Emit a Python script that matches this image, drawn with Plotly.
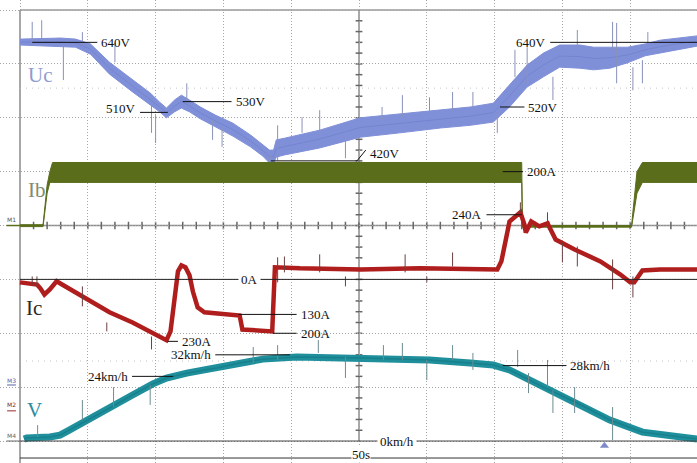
import plotly.graph_objects as go

# ------------------------------------------------------------------ data
# time in seconds (5 s/div, 50 s record)
t_uc = [0.0, 3.0, 4.1, 5.2, 6.6, 8.3, 9.6, 10.3, 10.8, 11.4, 11.9, 12.5, 13.3, 14.4, 15.7, 17.0, 17.9, 18.4, 18.7, 18.9,
        19.5, 22.1, 25.1, 28.0, 31.0, 33.2, 34.9, 36.1, 37.4, 38.6, 39.8, 41.3, 42.3, 43.5, 44.8, 46.1, 47.2, 49.93]
uc_hi = [646, 648, 646, 637, 603, 570, 546, 529, 518, 533, 542, 533, 520, 505, 490, 468, 449, 440, 440, 459,
         462, 477, 500, 507, 514, 520, 527, 561, 598, 620, 635, 635, 631, 631, 631, 637, 644, 652]
uc_lo = [635, 633, 631, 618, 581, 548, 524, 511, 500, 511, 518, 511, 498, 483, 466, 446, 429, 416, 416, 427,
         431, 444, 464, 472, 481, 486, 492, 520, 557, 576, 594, 592, 589, 592, 602, 615, 620, 633]

t_ib = [0.0, 1.7, 2.0, 2.2, 2.4, 37.0, 37.05, 45.1, 45.5, 45.9, 49.93]
ib_hi = [3, 3, 150, 200, 234, 234, 0, 0, 200, 234, 234]
ib_lo = [-4, -4, 120, 160, 160, 160, -6, -6, 120, 160, 160]

t_ic = [0.0, 1.25, 1.5, 1.8, 2.2, 2.7, 3.1, 4.6, 6.6, 8.3, 10.3, 10.8, 11.1, 11.4, 11.65, 11.9, 12.2, 12.5, 12.75, 13.1,
        13.6, 16.2, 16.4, 18.6, 18.8, 20.65, 25.1, 29.5, 35.2, 35.5, 36.1, 36.9, 37.2, 37.3, 37.7, 38.3, 38.9, 39.5,
        40.9, 42.8, 44.25, 45.0, 45.3, 45.9, 47.2, 49.93]
ic = [-11, -19, -33, -56, -37, -7, -19, -63, -122, -160, -212, -226, -193, -74, 30, 52, 45, 15, -45, -104,
      -122, -134, -186, -193, 45, 41, 37, 41, 37, 67, 215, 249, 204, 174, 215, 197, 208, 148,
      111, 67, 19, -11, -11, 33, 37, 37]

t_v = [0.3, 0.5, 2.2, 2.95, 3.5, 4.9, 6.6, 8.3, 9.8, 10.8, 12.3, 14.5, 16.2, 17.9, 20.4, 25.3, 30.2, 33.2, 34.9,
       36.1, 38.6, 41.1, 43.5, 45.9, 48.5, 49.93]
v = [0.7, 1.1, 1.5, 2.2, 3.7, 7.4, 12.2, 17.1, 21.2, 23.4, 25.2, 27.1, 29.0, 30.4, 31.2, 30.8, 30.1, 29.0, 28.2,
     26.4, 20.0, 14.1, 7.8, 3.3, 1.5, 0.7]

# noise spikes (time, top, bottom)
uc_spk_t = [0.9, 1.6, 3.2, 4.6, 7.0, 9.7, 10.0, 12.3, 14.2, 14.9, 18.5, 19.0, 20.8, 22.1, 24.0, 26.7, 28.2, 30.2,
            31.9, 33.4, 35.2, 36.5, 37.4, 39.3, 41.1, 43.7, 44.0, 45.2, 45.9, 46.3]
uc_spk_hi = [678, 681, 639, 659, 639, 524, 505, 564, 496, 483, 431, 486, 501, 514, 483, 520, 542, 538,
             548, 548, 509, 626, 631, 576, 663, 678, 676, 594, 607, 659]
uc_spk_lo = [639, 639, 570, 635, 603, 472, 453, 533, 459, 446, 399, 421, 472, 472, 425, 496, 501, 509,
             514, 520, 472, 576, 564, 533, 626, 626, 564, 551, 564, 639]

ic_spk_t = [0.9, 1.25, 4.6, 6.4, 9.7, 19.0, 19.5, 22.1, 24.0, 28.4, 30.0, 31.9, 36.9, 38.9, 40.0, 41.1, 43.7, 45.2]
ic_spk_hi = [11, 11, -26, -160, -212, 82, 85, 93, 11, 93, 11, 100, 286, 249, 137, 122, 74, 11]
ic_spk_lo = [-19, -26, -100, -193, -260, -11, 26, 26, -26, 26, -11, 48, 249, 197, 63, 48, -37, -67]

v_spk_t = [1.3, 4.6, 6.9, 9.6, 17.2, 19.0, 22.0, 24.0, 26.8, 28.2, 30.0, 31.9, 33.4, 36.7, 37.5, 38.9, 39.3, 40.9, 43.7]
v_spk_hi = [5.9, 15.2, 20.0, 20.8, 34.9, 35.6, 37.5, 31.2, 35.6, 36.4, 30.1, 35.6, 32.7, 33.8, 25.2, 30.1, 18.9, 20.0, 12.6]
v_spk_lo = [1.5, 7.8, 12.6, 13.4, 29.0, 30.1, 32.7, 23.4, 30.1, 30.1, 22.6, 30.1, 26.4, 27.5, 17.8, 20.0, 10.4, 10.4, 0.4]

# callouts: (text, channel, value, line t0, line t1, text side)
callouts = [
    ("640V", "uc", 640, 0.9, 5.7, "right"),
    ("510V", "uc", 510, 8.85, 10.9, "left"),
    ("530V", "uc", 530, 12.0, 15.6, "right"),
    ("520V", "uc", 520, 35.4, 37.2, "right"),
    ("640V", "uc", 640, 39.1, 49.93, "left"),
    ("200A", "ib", 200, 35.6, 37.1, "right"),
    ("240A", "ic", 240, 34.4, 37.0, "left"),
    ("230A", "ic", -230, 10.9, 11.65, "right"),
    ("130A", "ic", -130, 16.1, 20.4, "right"),
    ("200A", "ic", -200, 18.65, 20.4, "right"),
    ("32km/h", "v", 32, 14.4, 19.9, "left"),
    ("24km/h", "v", 24, 8.26, 11.3, "left"),
    ("28km/h", "v", 28, 35.6, 40.3, "right"),
]

# ------------------------------------------------------------------ scope display settings
XR = [-1.475, 49.926]          # seconds
YR = [-0.408, 8.186]           # screen divisions
CH = {"uc": (1.0, 100.0), "ib": (4.0, 200.0), "ic": (3.0, 200.0), "v": (0.0, 20.0)}  # (zero div, units/div)
AX = {"uc": "y2", "ib": "y3", "ic": "y4", "v": "y5"}
COL = {"uc": "#8090d8", "uc_d": "#7484d0", "ib": "#5a6d1b", "ic": "#b01d1d", "v": "#1f8f9c", "v_d": "#17808c"}
FONT = "Liberation Serif"


def rng(ch):
    off, per = CH[ch]
    return [(YR[0] - off) * per, (YR[1] - off) * per]


def spikes(ts, hi, lo):
    xs, ys = [], []
    for t, a, b in zip(ts, hi, lo):
        xs += [t, t, None]
        ys += [a, b, None]
    return xs, ys


fig = go.Figure()
common = dict(mode="lines", hoverinfo="skip", showlegend=False)

# Ib (PWM block)
fig.add_trace(go.Scatter(x=t_ib, y=ib_lo, yaxis=AX["ib"], line=dict(color=COL["ib"], width=1), **common))
fig.add_trace(go.Scatter(x=t_ib, y=ib_hi, yaxis=AX["ib"], line=dict(color=COL["ib"], width=1),
                         fill="tonexty", fillcolor=COL["ib"], **common))

# Uc band
fig.add_trace(go.Scatter(x=t_uc, y=uc_lo, yaxis=AX["uc"], line=dict(color=COL["uc"], width=1), **common))
fig.add_trace(go.Scatter(x=t_uc, y=uc_hi, yaxis=AX["uc"], line=dict(color=COL["uc"], width=1),
                         fill="tonexty", fillcolor=COL["uc"], **common))
uc_mid = [(a + b) / 2 for a, b in zip(uc_hi, uc_lo)]
fig.add_trace(go.Scatter(x=t_uc, y=uc_mid, yaxis=AX["uc"], line=dict(color=COL["uc_d"], width=1), **common))
sx, sy = spikes(uc_spk_t, uc_spk_hi, uc_spk_lo)
fig.add_trace(go.Scatter(x=sx, y=sy, yaxis=AX["uc"], line=dict(color="#8a92ba", width=1), **common))

# Ic
fig.add_trace(go.Scatter(x=t_ic, y=ic, yaxis=AX["ic"], line=dict(color=COL["ic"], width=4.5), **common))
sx, sy = spikes(ic_spk_t, ic_spk_hi, ic_spk_lo)
fig.add_trace(go.Scatter(x=sx, y=sy, yaxis=AX["ic"], line=dict(color="#6b4040", width=1), **common))

# V
fig.add_trace(go.Scatter(x=t_v, y=v, yaxis=AX["v"], line=dict(color=COL["v"], width=7), **common))
fig.add_trace(go.Scatter(x=t_v, y=v, yaxis=AX["v"], line=dict(color=COL["v_d"], width=1.5), **common))
sx, sy = spikes(v_spk_t, v_spk_hi, v_spk_lo)
fig.add_trace(go.Scatter(x=sx, y=sy, yaxis=AX["v"], line=dict(color="#6d8c92", width=1), **common))

# trigger marker
fig.add_trace(go.Scatter(x=[43.1], y=[-0.09], yaxis="y6", mode="markers", hoverinfo="skip", showlegend=False,
                         marker=dict(symbol="triangle-up", size=8, color="#7f8bc9")))

shapes = []
ann = []


def hline(y, x0, x1, yref="y", color="#222", width=1, dash="solid", layer="above"):
    shapes.append(dict(type="line", xref="x", yref=yref, x0=x0, x1=x1, y0=y, y1=y, layer=layer,
                       line=dict(color=color, width=width, dash=dash)))


def vline(x, y0, y1, color="#555", width=1.5, layer="below"):
    shapes.append(dict(type="line", xref="x", yref="y", x0=x, x1=x, y0=y0, y1=y1, layer=layer,
                       line=dict(color=color, width=width)))


# frame / reference lines
hline(8, 0, XR[1], color="#9a9a9a", width=1.5, layer="below")
vline(0, YR[0], 8, color="#8a8a8a")
hline(4, 0, XR[1], color="#8c8c8c", width=1.5, layer="below")
vline(25, 0, 8, color="#8c8c8c")
# centre-line graticule ticks (1/5 division)
for k in range(1, 50):
    vline(float(k), 3.93, 4.07, color="#666")
for k in range(1, 40):
    hline(k * 0.2, 24.75, 25.25, color="#666", width=1.5, layer="below")
hline(6.55, 0, XR[1], color="#c4c4c4", dash="1px,5px", layer="below")
hline(1.485, 0, XR[1], color="#c4c4c4", dash="1px,5px", layer="below")
hline(0, 0, XR[1], yref=AX["ic"], color="#222", width=1)          # 0A
hline(0, 0, XR[1], yref=AX["v"], color="#444", width=1)           # 0km/h
hline(-0.3155, 0, XR[1], color="#333", width=1)                   # 50s bar
# 420V leader with bend
hline(420, 18.5, 24.85, yref=AX["uc"], color="#111")
shapes.append(dict(type="line", xref="x", yref=AX["uc"], x0=24.85, x1=25.5, y0=420, y1=440,
                   line=dict(color="#111", width=1)))

lab = dict(showarrow=False, font=dict(family=FONT, size=13, color="#111"), yanchor="middle")
for text, ch, val, a, b, side in callouts:
    hline(val, a, b, yref=AX[ch], color="#111")
    ys = 4 if text == "510V" else 0
    if side == "right":
        ann.append(dict(x=b, y=val, xref="x", yref=AX[ch], text=text, xanchor="left", xshift=2, yshift=ys, **lab))
    else:
        ann.append(dict(x=a, y=val, xref="x", yref=AX[ch], text=text, xanchor="right", xshift=-2, yshift=ys, **lab))
ann.append(dict(x=25.7, y=433, xref="x", yref=AX["uc"], text="420V", xanchor="left", **lab))
ann.append(dict(x=16.9, y=0, xref="x", yref=AX["ic"], text="0A", xanchor="center", bgcolor="white", borderpad=2, **lab))
ann.append(dict(x=27.8, y=0, xref="x", yref=AX["v"], text="0km/h", xanchor="center", bgcolor="white", borderpad=2, **lab))
ann.append(dict(x=25.15, y=YR[0], xref="x", yref="y", text="50s", xanchor="center", yanchor="bottom",
                showarrow=False, bgcolor="white", borderpad=0, font=dict(family=FONT, size=13, color="#111")))

# channel names
for text, x, y, c in [("Uc", 1.5, 6.79, "#8f9cd0"), ("Ib", 1.29, 4.66, "#808c70"),
                      ("Ic", 1.0, 2.47, "#2a2a2a"), ("V", 1.07, 0.575, "#2b8a9e")]:
    ann.append(dict(x=x, y=y, xref="x", yref="y", text=text, showarrow=False, xanchor="center", yanchor="middle",
                    font=dict(family=FONT, size=21, color=c)))
# channel markers
for text, y, c in [("M1", 4.12, "#555"), ("M3", 1.13, "#5a64a8"), ("M2", 0.67, "#7a2a2a"), ("M4", 0.1, "#666")]:
    ann.append(dict(x=-0.62, y=y, xref="x", yref="y", text=text, showarrow=False, xanchor="center",
                    yanchor="middle", font=dict(family="DejaVu Sans", size=6, color=c)))
hline(4.0, -1.0, 0, color="#5a6d1b", width=1.5)
hline(1.04, -0.95, -0.3, color="#5a64a8", width=1)
hline(0.56, -0.95, -0.3, color="#9a2a2a", width=1)
hline(0.0, -1.0, 0, color="#666", width=1)

axis_common = dict(showticklabels=False, zeroline=False, ticks="", showline=False, fixedrange=True)
fig.update_layout(
    width=697, height=463, margin=dict(l=0, r=0, t=0, b=0),
    paper_bgcolor="white", plot_bgcolor="white", showlegend=False,
    xaxis=dict(range=XR, showgrid=True, gridcolor="#a6a6a6", griddash="1px,2px", gridwidth=1,
               dtick=5, tick0=0, **axis_common),
    yaxis=dict(range=YR, showgrid=True, gridcolor="#a6a6a6", griddash="1px,2px", gridwidth=1,
               dtick=1, tick0=0, **axis_common),
    yaxis2=dict(overlaying="y", range=rng("uc"), visible=False, fixedrange=True),
    yaxis3=dict(overlaying="y", range=rng("ib"), visible=False, fixedrange=True),
    yaxis4=dict(overlaying="y", range=rng("ic"), visible=False, fixedrange=True),
    yaxis5=dict(overlaying="y", range=rng("v"), visible=False, fixedrange=True),
    yaxis6=dict(overlaying="y", range=YR, visible=False, fixedrange=True),
    shapes=shapes, annotations=ann,
)

fig.write_html("out.html", config={"displayModeBar": False},
               post_script="document.body.style.margin='0';document.body.style.overflow='hidden';")
